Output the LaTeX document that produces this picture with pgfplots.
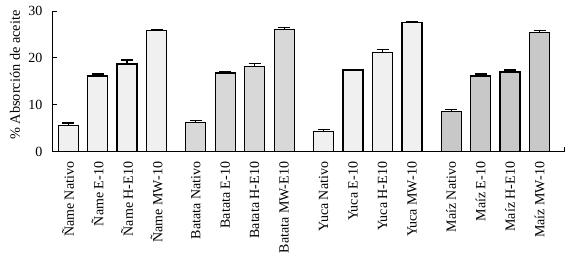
\documentclass[border=0pt]{standalone}
\usepackage{fontspec}
\setmainfont{Liberation Serif}
\usepackage{pgfplots}
\pgfplotsset{compat=1.18}
\definecolor{lightbar}{HTML}{F0F0F0}
\definecolor{midbar}{HTML}{D8D8D8}
\definecolor{darkbar}{HTML}{C8C8C8}
\begin{document}
\begin{tikzpicture}
\begin{axis}[
  scale only axis,
  width=511.3pt, height=140.7pt,
  xmin=-0.525, xmax=16.83,
  ymin=0, ymax=30,
  axis x line*=bottom, axis y line*=left,
  axis line style={-, line width=1.2pt},
  tick align=inside,
  major tick length=4.5pt,
  tick style={line width=1pt, black},
  ytick={0,10,20,30},
  xtick={0,1,2,3,4.33,5.33,6.33,7.33,8.67,9.67,10.67,11.67,13,14,15,16,16.83},
  xticklabels={Ñame Nativo,Ñame E-10,Ñame H-E10,Ñame MW-10,Batata Nativo,Batata E-10,Batata H-E10,Batata MW-E10,Yuca Nativo,Yuca E-10,Yuca H-E10,Yuca MW-10,Maíz Nativo,Maíz E-10,Maíz H-E10,Maíz MW-10,{}},
  /pgf/number format/assume math mode=true,
  tick label style={font=\fontsize{14}{15}\selectfont},
  xticklabel style={rotate=90, anchor=east, inner sep=0pt},
  xticklabel shift=10pt,
  yticklabel style={anchor=east, inner sep=0pt},
  yticklabel shift=10pt,
  every axis y label/.style={at={(rel axis cs:-0.0737,0.545)}, rotate=90, anchor=center, font=\fontsize{14.3}{15}\selectfont},
  ylabel={\% Absorción de aceite},
  clip=false,
]
\addplot[ybar, bar width=20pt, bar shift=0pt, fill=lightbar, draw=black, line width=1.2pt,
  error bars/.cd, y dir=plus, y explicit, error mark options={rotate=90, mark size=6pt, line width=1.2pt}, error bar style={line width=1.2pt}]
  coordinates {(0,5.6) +- (0,0.5) (1,16.15) +- (0,0.4) (2,18.7) +- (0,0.85) (3,25.8) +- (0,0.2)};
\addplot[ybar, bar width=20pt, bar shift=0pt, fill=midbar, draw=black, line width=1.2pt,
  error bars/.cd, y dir=plus, y explicit, error mark options={rotate=90, mark size=6pt, line width=1.2pt}, error bar style={line width=1.2pt}]
  coordinates {(4.33,6.3) +- (0,0.43) (5.33,16.8) +- (0,0.2) (6.33,18.1) +- (0,0.64) (7.33,26.0) +- (0,0.43)};
\addplot[ybar, bar width=20pt, bar shift=0pt, fill=lightbar, draw=black, line width=1.2pt,
  error bars/.cd, y dir=plus, y explicit, error mark options={rotate=90, mark size=6pt, line width=1.2pt}, error bar style={line width=1.2pt}]
  coordinates {(8.67,4.3) +- (0,0.5) (9.67,17.4) +- (0,0.2) (10.67,21.1) +- (0,0.64) (11.67,27.5) +- (0,0.2)};
\addplot[ybar, bar width=20pt, bar shift=0pt, fill=darkbar, draw=black, line width=1.2pt,
  error bars/.cd, y dir=plus, y explicit, error mark options={rotate=90, mark size=6pt, line width=1.2pt}, error bar style={line width=1.2pt}]
  coordinates {(13,8.65) +- (0,0.43) (14,16.15) +- (0,0.43) (15,17.0) +- (0,0.43) (16,25.4) +- (0,0.43)};
\end{axis}
\pgfresetboundingbox
\path (-52.7pt,-105.3pt) rectangle (515.3pt,151.7pt);
\end{tikzpicture}
\end{document}
